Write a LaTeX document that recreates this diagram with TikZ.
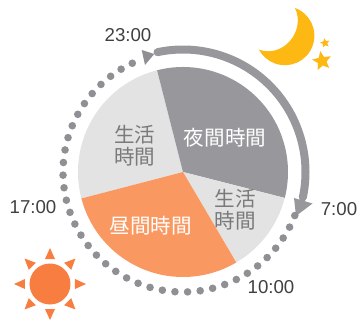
\documentclass[tikz,border=0pt]{standalone}
\usepackage{fontspec}
\setmainfont{Liberation Sans}
\newfontfamily\jpfont{Noto Sans CJK JP}[Scale=1]
\usetikzlibrary{calc,positioning,shapes.geometric}

\definecolor{nightgray}{HTML}{98979C}
\definecolor{lifegray}{HTML}{E3E3E3}
\definecolor{dayorange}{HTML}{FA9862}
\definecolor{sunorange}{HTML}{F77E40}
\definecolor{moonyellow}{HTML}{FDB813}
\definecolor{dotgray}{HTML}{908F94}

\tikzset{
  timelabel/.style = {text = black!75, font = \fontsize{14}{15}\selectfont, inner sep = 0pt},
  slicelabel/.style = {font = \jpfont\fontsize{15.4}{16.5}\selectfont, inner sep = 0pt, align = center},
  ringdot/.style = {fill = dotgray, draw = none},
  starmark/.style = {star, star points = 5, star point ratio = 2.2, fill = moonyellow, inner sep = 0pt, rotate = 10},
}

\begin{document}
\begin{tikzpicture}[x = 0.75pt, y = 0.75pt]
    \useasboundingbox (-183,-149) rectangle (177,172);
    \coordinate (c) at (0,0);

    % pie
    \fill[lifegray] (c) -- (104.3:105) arc[start angle = 104.3, end angle = 194.6, radius = 105] -- cycle;
    \fill[nightgray] (c) -- (104.3:105) arc[start angle = 104.3, end angle = -14.3, radius = 105] -- cycle;
    \fill[lifegray] (c) -- (-14.3:105) arc[start angle = -14.3, end angle = -59.5, radius = 105] -- cycle;
    \fill[dayorange] (c) -- (-59.5:105) arc[start angle = -59.5, end angle = -165.4, radius = 105] -- cycle;

    % solid arc
    \coordinate (s) at (102:122.5);
    \draw[nightgray, line width = 6pt, line cap = round] (s) arc[start angle = 102, end angle = -12, radius = 122.5];
    \coordinate (h1) at (111,-26);
    \coordinate (h2) at (129.5,-31.5);
    \coordinate (h3) at (113,-44);
    \fill[nightgray] (h1) -- (h2) -- (h3) -- cycle;

    % dotted arc
    \foreach \i in {0,...,37} {
      \fill[ringdot] ({-21.3 - 6.046*\i}:120) circle (3.8);
    }
    \coordinate (d1) at (-41.3,122);
    \coordinate (d2) at (-28.7,118);
    \coordinate (d3) at (-38,107);
    \fill[dotgray] (d1) -- (d2) -- (d3) -- cycle;

    % times
    \node[timelabel] (t23) at ($(c) + (-55,137)$) {23:00};
    \node[timelabel] (t7) at ($(c) + (156,-37)$) {7:00};
    \node[timelabel] (t10) at ($(c) + (88,-115)$) {10:00};
    \node[timelabel] (t17) at ($(c) + (-150,-35)$) {17:00};

    % slice labels
    \node[slicelabel, text = white] (night) at ($(c) + (42,34)$) {夜間時間};
    \node[slicelabel, text = white] (day) at ($(c) + (-32,-54)$) {昼間時間};
    \node[slicelabel, text = black!52] (lifea) at ($(c) + (-48,26)$) {生活\\時間};
    \node[slicelabel, text = black!52] (lifeb) at ($(c) + (52,-38)$) {生活\\時間};

    % sun
    \coordinate (sun) at (-133,-112);
    \fill[sunorange] (sun) circle (20.5);
    \foreach \a in {0,45,...,315} {
      \fill[sunorange, shift = {(sun)}, rotate = \a] (25,-5) -- (36,0) -- (25,5) -- cycle;
    }

    % moon and stars
    \fill[moonyellow] (112,164) arc[start angle = 70, end angle = -152, radius = 29.5] .. controls (100,113.5) and (123,141) .. (112,164) -- cycle;
    \node[starmark, minimum size = 15pt] (stara) at (139,111) {};
    \node[starmark, minimum size = 7.5pt] (starb) at (142,129) {};
  \end{tikzpicture}
\end{document}
